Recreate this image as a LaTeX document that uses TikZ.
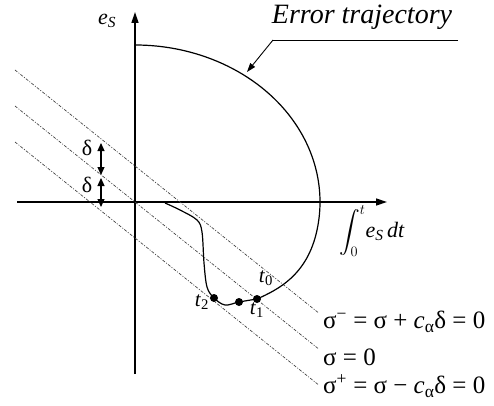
\documentclass[tikz,border=0pt]{standalone}
\usepackage{amsmath}
\usepackage{fontspec}
\setmainfont{Liberation Serif}
\usetikzlibrary{arrows.meta}
\begin{document}
\begin{tikzpicture}[x=1pt,y=1pt,
  axis/.style={line width=1.4pt,-{Triangle[length=11pt,width=7pt]}},
  traj/.style={line width=1.2pt},
  sline/.style={line width=0.7pt,gray!50!black,dash pattern=on 3pt off 1.5pt on 1pt off 1.5pt},
  dotn/.style={circle,fill,inner sep=0pt,minimum size=8pt},
  lab/.style={inner sep=0pt,font=\fontsize{22}{24}\selectfont},
  tlab/.style={inner sep=0pt,font=\fontsize{21}{23}\selectfont},
  slab/.style={inner sep=0pt,anchor=west,font=\fontsize{25}{27}\selectfont},
  darr/.style={line width=1.1pt,{Triangle[length=8pt,width=7pt]}-{Triangle[length=8pt,width=7pt]}}]
\useasboundingbox[fill=white] (0,0) rectangle (494,405);
% axes
\coordinate (yb) at (135,31); \coordinate (yt) at (135,393);
\coordinate (xl) at (17,203); \coordinate (xr) at (387,203);
\draw[axis] (yb) -- (yt);
\draw[axis] (xl) -- (xr);
\node[lab] (es) at (107,384) {\textit{e}\textsubscript{\textit{S}}};
\node[lab,anchor=west] (int) at (339,174) {$\displaystyle\int_0^t$\textit{e}\textsubscript{\textit{S}}\,\textit{dt}};
% switching lines
\coordinate (a1) at (15,335); \coordinate (a2) at (318,92.6);
\coordinate (b1) at (15,299); \coordinate (b2) at (318,56.6);
\coordinate (c1) at (15,263); \coordinate (c2) at (318,20.6);
\draw[sline] (a1) -- (a2);
\draw[sline] (b1) -- (b2);
\draw[sline] (c1) -- (c2);
\node[slab] (sm) at (323,83) {σ\textsuperscript{−} = σ + \textit{c}\textsubscript{α}δ = 0};
\node[slab] (s0) at (323,48) {σ = 0};
\node[slab] (sp) at (323,19) {σ\textsuperscript{+} = σ − \textit{c}\textsubscript{α}δ = 0};
% delta arrows
\coordinate (d1t) at (101,262); \coordinate (d1b) at (101,230);
\coordinate (d2t) at (101,227); \coordinate (d2b) at (101,198);
\draw[darr] (d1t) -- (d1b);
\draw[darr] (d2t) -- (d2b);
\node[lab] (dl1) at (87,257) {δ};
\node[lab] (dl2) at (87,220) {δ};
% trajectory
\draw[traj] (135,360) arc[start angle=90,end angle=-10,x radius=185,y radius=157]
  .. controls (307.6,129.3) and (277,115) .. (257,106)
  plot[smooth,tension=0.55] coordinates {(257,106) (239,103) (225,100) (214,107) (207,118) (204,142) (202,173) (197,185) (180,195) (165,202)};
\node[dotn] (p1) at (257,106) {};
\node[dotn] (pm) at (239,103) {};
\node[dotn] (p2) at (214,107) {};
\node[tlab] (t0) at (266,127) {\textit{t}\textsubscript{0}};
\node[tlab] (t1) at (257,95) {\textit{t}\textsubscript{1}};
\node[tlab] (t2) at (202,103) {\textit{t}\textsubscript{2}};
% error trajectory label
\node[inner sep=0pt,font=\fontsize{28}{30}\selectfont\itshape] (et) at (362,388) {Error trajectory};
\coordinate (u1) at (273,365); \coordinate (u2) at (458,365);
\coordinate (ap) at (247,333);
\draw[line width=0.9pt] (u2) -- (u1);
\draw[line width=0.9pt,-{Triangle[length=9pt,width=6pt]}] (u1) -- (ap);
\end{tikzpicture}
\end{document}
